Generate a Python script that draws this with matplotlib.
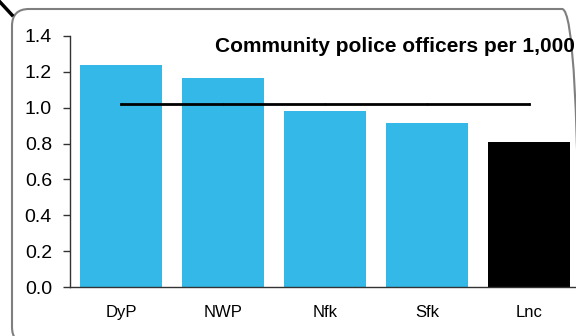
import matplotlib
matplotlib.use("Agg")
import matplotlib.pyplot as plt
from matplotlib.patches import FancyBboxPatch
from matplotlib.lines import Line2D
from matplotlib.transforms import IdentityTransform

categories = ["DyP", "NWP", "Nfk", "Sfk", "Lnc"]
values = [1.24, 1.167, 0.983, 0.917, 0.81]
average = 1.022
bar_colors = ["#33B8E8", "#33B8E8", "#33B8E8", "#33B8E8", "#000000"]
yticks = [0.0, 0.2, 0.4, 0.6, 0.8, 1.0, 1.2, 1.4]
title = "Community police officers per 1,000"

plt.rcParams["font.family"] = ["Liberation Sans", "DejaVu Sans"]

W, H = 576, 336
fig = plt.figure(figsize=(W / 100, H / 100), dpi=100)

# rounded border (pixel coordinates, origin bottom-left)
border = FancyBboxPatch((12, -8), 567, 336 - 9 + 8,
                        boxstyle="round,pad=0,rounding_size=17",
                        transform=IdentityTransform(), fill=False,
                        edgecolor="#7f7f7f", linewidth=1.5)
fig.patches.append(border)
fig.add_artist(Line2D([0, 12], [334, 336 - 15],
                      transform=IdentityTransform(), color="black",
                      linewidth=2.5))

ax = fig.add_axes([70 / W, (336 - 287) / H, 510 / W, (287 - 36) / H])
x = list(range(len(categories)))
ax.bar(x, values, width=0.8, color=bar_colors, zorder=2)
ax.plot(x, [average] * len(x), color="black",
        linewidth=2, marker="|", markersize=2, zorder=3)

ax.set_xlim(-0.5, 4.5)
ax.set_ylim(0, 1.4)
ax.set_yticks(yticks)
ax.set_yticklabels([f"{v:.1f}" for v in yticks], fontsize=14)
ax.set_xticks(x)
ax.set_xticklabels(categories, fontsize=12)
ax.tick_params(axis="x", length=0, pad=13)
ax.tick_params(axis="y", length=5, width=1, color="#333333", pad=8)
for s in ["top", "right"]:
    ax.spines[s].set_visible(False)
ax.spines["left"].set_color("#333333")
ax.spines["bottom"].set_color("#333333")
ax.spines["left"].set_linewidth(1)
ax.spines["bottom"].set_linewidth(1)

fig.text(215 / W, 1 - 46 / H, title, fontsize=15, fontweight="bold",
         va="center", ha="left")

fig.savefig("out.png", dpi=100)
